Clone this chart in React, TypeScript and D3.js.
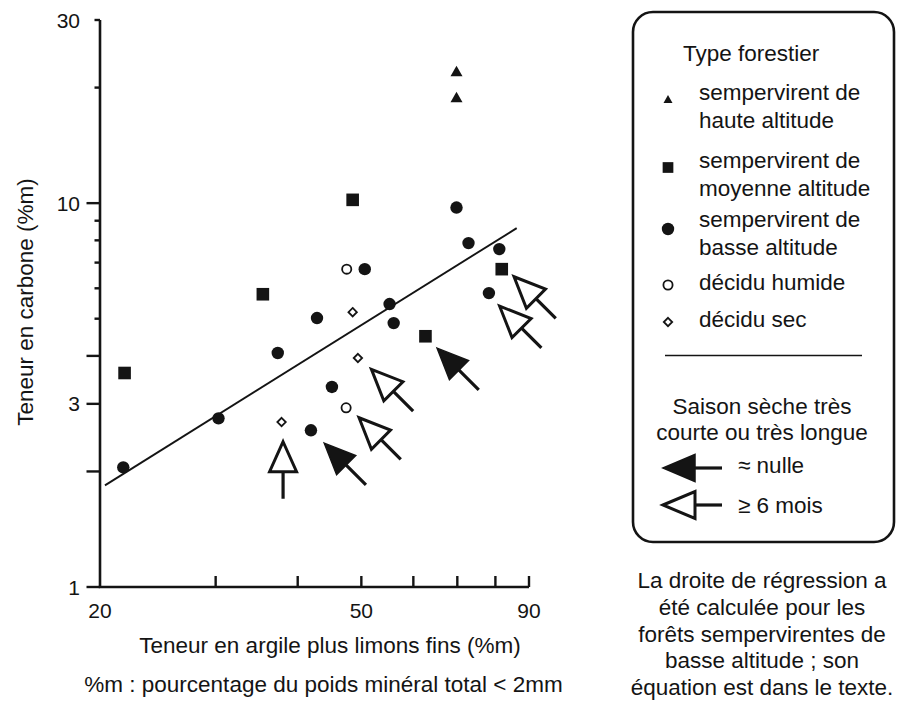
import React from 'react';
import * as d3 from 'd3';

// ---- Data ----
const hauteAltitude = [
  { x: 69.8, y: 22.1 },
  { x: 69.8, y: 18.9 },
];
const moyenneAltitude = [
  { x: 21.8, y: 3.61 },
  { x: 35.4, y: 5.79 },
  { x: 48.5, y: 10.2 },
  { x: 62.6, y: 4.5 },
  { x: 81.8, y: 6.73 },
];
const basseAltitude = [
  { x: 21.7, y: 2.05 },
  { x: 30.3, y: 2.75 },
  { x: 37.3, y: 4.07 },
  { x: 41.9, y: 2.56 },
  { x: 42.8, y: 5.02 },
  { x: 45.1, y: 3.32 },
  { x: 50.6, y: 6.73 },
  { x: 55.2, y: 5.46 },
  { x: 56.0, y: 4.87 },
  { x: 69.8, y: 9.74 },
  { x: 72.8, y: 7.87 },
  { x: 81.1, y: 7.59 },
  { x: 78.2, y: 5.83 },
];
const deciduHumide = [
  { x: 47.5, y: 6.73 },
  { x: 47.4, y: 2.93 },
];
const deciduSec = [
  { x: 48.5, y: 5.2 },
  { x: 49.4, y: 3.95 },
  { x: 37.8, y: 2.69 },
];
// dry-season arrows: tip position, pointing direction, kind
const arrows = [
  { x: 38.0, y: 2.39, dir: 'up', kind: 'long' },
  { x: 43.9, y: 2.37, dir: 'nw', kind: 'nulle' },
  { x: 49.6, y: 2.76, dir: 'nw', kind: 'long' },
  { x: 51.8, y: 3.69, dir: 'nw', kind: 'long' },
  { x: 65.2, y: 4.19, dir: 'nw', kind: 'nulle' },
  { x: 81.2, y: 5.39, dir: 'nw', kind: 'long' },
  { x: 85.4, y: 6.43, dir: 'nw', kind: 'long' },
];
const regressionLine = [
  { x: 20.35, y: 1.84 },
  { x: 86.2, y: 8.61 },
];
const yTickValues = [1, 2, 3, 4, 5, 6, 7, 8, 9, 10, 20, 30];
const yLongTicks = [1, 2, 3, 4, 10];
const yLabelValues = [1, 3, 10, 30];
const xTickValues = [30, 40, 50, 60, 70, 80, 90];
const xLabelValues = [20, 50, 90];

const xTitle = 'Teneur en argile plus limons fins (%m)';
const xSubtitle = '%m : pourcentage du poids minéral total < 2mm';
const yTitle = 'Teneur en carbone (%m)';
const legendTitle = 'Type forestier';
const legendItems = [
  { key: 'haute', lines: ['sempervirent de', 'haute altitude'] },
  { key: 'moyenne', lines: ['sempervirent de', 'moyenne altitude'] },
  { key: 'basse', lines: ['sempervirent de', 'basse altitude'] },
  { key: 'humide', lines: ['décidu humide'] },
  { key: 'sec', lines: ['décidu sec'] },
];
const seasonTitle = ['Saison sèche très', 'courte ou très longue'];
const seasonItems = [
  { kind: 'nulle', label: '≈ nulle' },
  { kind: 'long', label: '≥ 6 mois' },
];
const note = [
  'La droite de régression a',
  'été calculée pour les',
  'forêts sempervirentes de',
  'basse altitude ; son',
  'équation est dans le texte.',
];

const FONT = '"Liberation Sans", Arial, Helvetica, sans-serif';
const INK = '#141414';

function arrowShape(tx: number, ty: number, dx: number, dy: number, L: number, H: number, W: number) {
  const n = Math.hypot(dx, dy);
  const ux = dx / n, uy = dy / n;
  const bx = tx - ux * H, by = ty - uy * H;
  const px = -uy, py = ux;
  const head = `M${tx},${ty}L${bx + px * W},${by + py * W}L${bx - px * W},${by - py * W}Z`;
  const shaft = { x1: bx, y1: by, x2: tx - ux * L, y2: ty - uy * L };
  return { head, shaft };
}

function Arrow({ tx, ty, dx, dy, kind, L = 59, H = 31, W = 13.5 }: any) {
  const { head, shaft } = arrowShape(tx, ty, dx, dy, L, H, W);
  const filled = kind === 'nulle';
  return (
    <g>
      <line {...shaft} stroke={INK} strokeWidth={3.2} />
      <path d={head} fill={filled ? INK : '#fff'} stroke={INK} strokeWidth={filled ? 1.5 : 3} strokeLinejoin="miter" />
    </g>
  );
}

function Marker({ type, cx, cy, scale = 1 }: any) {
  const s = scale;
  if (type === 'haute') {
    const w = 6 * s, h = 5.2 * s;
    return <path d={`M${cx},${cy - h}L${cx + w},${cy + h}L${cx - w},${cy + h}Z`} fill={INK} />;
  }
  if (type === 'moyenne') {
    const a = 6.3 * s;
    return <rect x={cx - a} y={cy - a} width={2 * a} height={2 * a} fill={INK} />;
  }
  if (type === 'basse') {
    return <circle cx={cx} cy={cy} r={6.2 * s} fill={INK} />;
  }
  if (type === 'humide') {
    return <circle cx={cx} cy={cy} r={4.6 * s} fill="#fff" stroke={INK} strokeWidth={1.8} />;
  }
  const d = 4.2 * s;
  return (
    <path d={`M${cx},${cy - d}L${cx + d},${cy}L${cx},${cy + d}L${cx - d},${cy}Z`} fill="#fff" stroke={INK} strokeWidth={1.8} />
  );
}

export default function App() {
  const x = d3.scaleLog().domain([20, 90]).range([100, 529]);
  const y = d3.scaleLog().domain([1, 30]).range([587, 20]);
  const line = d3.line<{ x: number; y: number }>().x(d => x(d.x)).y(d => y(d.y));

  const series = [
    { type: 'haute', data: hauteAltitude },
    { type: 'moyenne', data: moyenneAltitude },
    { type: 'basse', data: basseAltitude },
    { type: 'humide', data: deciduHumide },
    { type: 'sec', data: deciduSec },
  ];

  const legendMarkerY: Record<string, number> = { haute: 99, moyenne: 167.5, basse: 229, humide: 285, sec: 322 };
  const legendTextY: Record<string, number> = { haute: 100, moyenne: 168, basse: 227, humide: 290, sec: 327 };
  const fs = 22.5;

  return (
    <svg width={897} height={701} style={{ position: 'absolute', left: 0, top: 0, background: '#fff' }} fontFamily={FONT}>
      <rect width={897} height={701} fill="#fff" />
      {/* regression line */}
      <path d={line(regressionLine) || ''} fill="none" stroke={INK} strokeWidth={1.9} />

      {/* axes */}
      <line x1={x(20)} x2={x(20)} y1={y(30)} y2={y(1)} stroke={INK} strokeWidth={2.6} />
      <line x1={x(20) - 1.3} x2={x(90)} y1={y(1)} y2={y(1)} stroke={INK} strokeWidth={2.6} />
      {yTickValues.map(v => (
        <line key={'yt' + v} x1={x(20) - (yLongTicks.includes(v) ? 13.5 : 5.5)} x2={x(20)} y1={y(v)} y2={y(v)} stroke={INK} strokeWidth={2.4} />
      ))}
      {yLabelValues.map(v => (
        <text key={'yl' + v} x={80} y={y(v) + 7.5} textAnchor="end" fontSize={21} fill={INK}>{v}</text>
      ))}
      {xTickValues.map(v => (
        <line key={'xt' + v} x1={x(v)} x2={x(v)} y1={y(1)} y2={y(1) - 11} stroke={INK} strokeWidth={2.4} />
      ))}
      {xLabelValues.map(v => (
        <text key={'xl' + v} x={x(v)} y={618} textAnchor="middle" fontSize={21} fill={INK}>{v}</text>
      ))}
      <text x={330} y={653} textAnchor="middle" fontSize={fs} fill={INK}>{xTitle}</text>
      <text x={323.5} y={692} textAnchor="middle" fontSize={fs} fill={INK}>{xSubtitle}</text>
      <text transform="translate(33,302) rotate(-90)" textAnchor="middle" fontSize={fs} fill={INK}>{yTitle}</text>

      {/* points */}
      {series.map(s => s.data.map((d, i) => (
        <Marker key={s.type + i} type={s.type} cx={x(d.x)} cy={y(d.y)} />
      )))}

      {/* arrows */}
      {arrows.map((a, i) => (
        <Arrow key={'ar' + i} tx={x(a.x)} ty={y(a.y)} dx={a.dir === 'up' ? 0 : -1} dy={-1} kind={a.kind}
          L={a.dir === 'up' ? 57 : 59} H={a.dir === 'up' ? 30 : 31} />
      ))}

      {/* legend box */}
      <rect x={633} y={12} width={261} height={530} rx={20} ry={20} fill="none" stroke={INK} strokeWidth={2.6} />
      <text x={683} y={61} fontSize={fs} fill={INK}>{legendTitle}</text>
      {legendItems.map(it => (
        <g key={it.key}>
          <Marker type={it.key} cx={668} cy={legendMarkerY[it.key]} scale={it.key === 'haute' ? 0.75 : it.key === 'moyenne' ? 0.85 : 1} />
          {it.lines.map((l, j) => (
            <text key={j} x={699} y={legendTextY[it.key] + j * 27.5} fontSize={fs} fill={INK}>{l}</text>
          ))}
        </g>
      ))}
      <line x1={665} x2={862} y1={355.5} y2={355.5} stroke={INK} strokeWidth={1.5} />
      {seasonTitle.map((l, j) => (
        <text key={'st' + j} x={762} y={414 + j * 26} textAnchor="middle" fontSize={fs} fill={INK}>{l}</text>
      ))}
      {seasonItems.map((s, j) => (
        <g key={'si' + j}>
          <Arrow tx={663} ty={468 + j * 37} dx={-1} dy={0} kind={s.kind} L={59} H={32} W={13.5} />
          <text x={738} y={473 + j * 39.5} fontSize={fs} fill={INK}>{s.label}</text>
        </g>
      ))}

      {/* note */}
      {note.map((l, j) => (
        <text key={'n' + j} x={762} y={588 + j * 26.8} textAnchor="middle" fontSize={fs} fill={INK}>{l}</text>
      ))}
    </svg>
  );
}
